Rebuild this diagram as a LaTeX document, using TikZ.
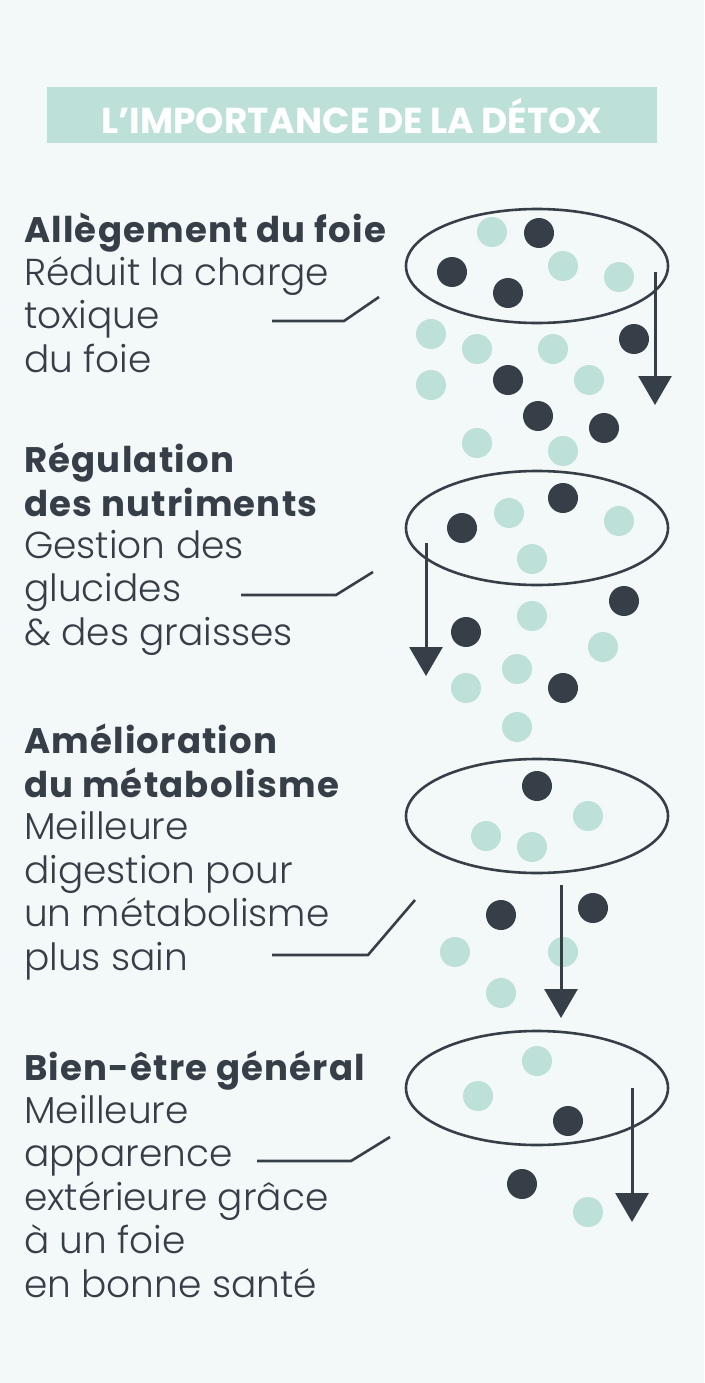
\documentclass[tikz,border=0pt]{standalone}
\usepackage{fontspec}
\setmainfont{Poppins}
\newfontfamily\bodyfont{Poppins Light}
\newfontfamily\headfont{Poppins Bold}[LetterSpace=3.4]
\newfontfamily\titlefont{Poppins Bold}
\usetikzlibrary{arrows.meta}

\definecolor{bgcol}{HTML}{F3F8F8}
\definecolor{mint}{HTML}{BDE0D9}
\definecolor{ink}{HTML}{363E48}

\tikzset{
    heading/.style={anchor=base west, inner sep=0pt, align=left, text=ink,
        font=\headfont\fontsize{35.5}{43.4}\selectfont},
    bodytext/.style={anchor=base west, inner sep=0pt, align=left, text=ink,
        font=\bodyfont\fontsize{37.5}{43.4}\selectfont},
    leader/.style={draw=ink, line width=2.6pt},
    flow/.style={draw=ink, line width=3pt, -{Triangle[length=29pt,width=33pt]}},
    lightdot/.style={fill=mint},
    darkdot/.style={fill=ink}
}

\begin{document}
\begin{tikzpicture}[x=1pt,y=-1pt]
    % Background and title band
    \fill[bgcol] (0,0) rectangle (704,1383);
    \useasboundingbox (0,0) rectangle (704,1383);
    \fill[mint] (47,87) rectangle (657,143);
    \node[text=white, font=\titlefont\fontsize{36}{38}\selectfont] (title) at (352,116) {L’IMPORTANCE DE LA DÉTOX};

    % Text blocks (anchored on the baseline of their last line)
    \node[heading] (head1) at (24,242) {Allègement du foie};
    \node[bodytext] (body1) at (24,372) {Réduit la charge\\toxique\\du foie};
    \node[heading] (head2) at (24,516) {Régulation\\des nutriments};
    \node[bodytext] (body2) at (24,645) {Gestion des\\glucides\\\& des graisses};
    \node[heading] (head3) at (24,797) {Amélioration\\du métabolisme};
    \node[bodytext] (body3) at (24,970) {Meilleure\\digestion pour\\un métabolisme\\plus sain};
    \node[heading] (head4) at (24,1080) {Bien-être général};
    \node[bodytext] (body4) at (24,1297) {Meilleure\\apparence\\extérieure grâce\\à un foie\\en bonne santé};

    % Leader lines
    \coordinate (l1a) at (272,321); \coordinate (l1b) at (344,321); \coordinate (l1c) at (379,297);
    \coordinate (l2a) at (241,595); \coordinate (l2b) at (336,595); \coordinate (l2c) at (373,572);
    \coordinate (l3a) at (272,955); \coordinate (l3b) at (368,955); \coordinate (l3c) at (415,900);
    \coordinate (l4a) at (257,1161); \coordinate (l4b) at (351,1161); \coordinate (l4c) at (390,1137);
    \foreach \n in {1,2,3,4} {
        \draw[leader] (l\n a) -- (l\n b) -- (l\n c);
    }

    % Light dots
    \foreach \x/\y in {492/232, 563/266, 619/277, 431/334, 477/349, 553/349,
                       431/385, 589/380, 477/443, 563/451,
                       509/513, 619/521, 532/559, 532/616, 603/647, 517/669,
                       466/688, 517/727,
                       588/816, 486/836, 532/847, 455/952, 563/952, 501/993,
                       537/1061, 478/1096, 588/1212} {
        \fill[lightdot] (\x,\y) circle (15pt);
    }

    % Dark dots
    \foreach \x/\y in {539/233, 452/272, 508/293, 634/339, 508/380, 538/416,
                       604/428, 462/528, 563/498, 624/601, 466/632, 563/688,
                       537/786, 501/915, 593/908, 568/1121, 522/1184} {
        \fill[darkdot] (\x,\y) circle (15pt);
    }

    % Ellipses
    \foreach \y in {266,528,816,1088} {
        \draw[ink, line width=2.6pt] (537,\y) ellipse (131pt and 57pt);
    }

    % Arrows
    \coordinate (a1s) at (655,272);  \coordinate (a1e) at (655,405);
    \coordinate (a2s) at (426,543);  \coordinate (a2e) at (426,676);
    \coordinate (a3s) at (561,885);  \coordinate (a3e) at (561,1018);
    \coordinate (a4s) at (632,1088); \coordinate (a4e) at (632,1222);
    \foreach \n in {1,2,3,4} {
        \draw[flow] (a\n s) -- (a\n e);
    }
\end{tikzpicture}
\end{document}
